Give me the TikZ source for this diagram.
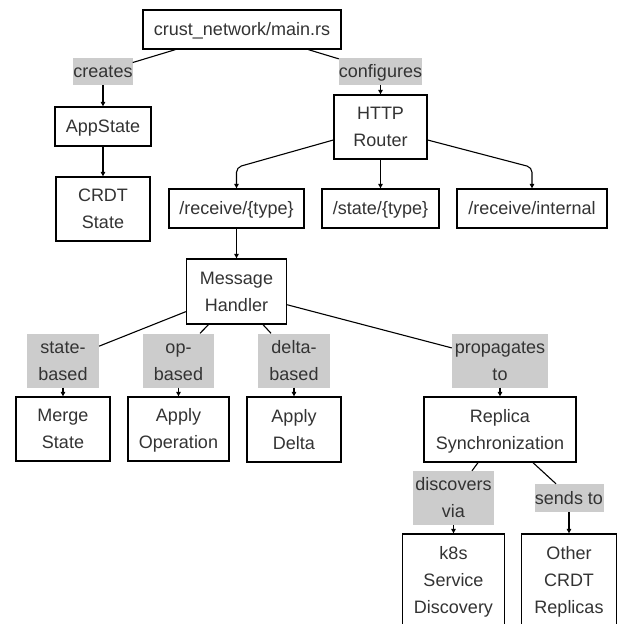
\documentclass[tikz,border=0pt]{standalone}
\usepackage{fontspec}
\setmainfont{Liberation Sans}
\usetikzlibrary{arrows.meta}
\definecolor{labelgray}{HTML}{CCCCCC}
\definecolor{ink}{HTML}{333333}
% one text line of the flowchart: 27pt tall, baseline 7.25pt above its foot
\newcommand{\lstrut}{\rule[-7.25pt]{0pt}{27pt}}
\newcommand{\txt}[1]{\lstrut#1}
\begin{document}
\begin{tikzpicture}[x=1pt, y=-1pt,
  every node/.style={inner sep=0pt, align=center, text=ink,
    font=\fontsize{18}{27}\selectfont},
  box/.style={draw=black, line width=1.3pt, fill=white},
  tag/.style={fill=labelgray},
  link/.style={draw=black, line width=1.1pt},
  arrow/.style={link, -{Triangle[length=4.5pt, width=4.5pt]}},
]
\useasboundingbox[fill=white] (0,0) rectangle (619,624);

% nodes
\node[box, minimum width=198pt, minimum height=39pt] (main) at (242,29.5) {\txt{crust\_network/main.rs}};
\node[tag, minimum width=59pt, minimum height=27pt] (creates) at (103,71.5) {\txt{creates}};
\node[tag, minimum width=83pt, minimum height=27pt] (configures) at (380.5,71.5) {\txt{configures}};
\node[box, minimum width=96pt, minimum height=39pt] (appstate) at (103,126.5) {\txt{AppState}};
\node[box, minimum width=94pt, minimum height=64pt] (crdt) at (103,209) {\txt{CRDT}\\\txt{State}};
\node[box, minimum width=93pt, minimum height=64pt] (router) at (380.5,127) {\txt{HTTP}\\\txt{Router}};
\node[box, minimum width=135pt, minimum height=39pt] (recv) at (236.5,208.5) {\txt{/receive/\{type\}}};
\node[box, minimum width=117pt, minimum height=39pt] (stateep) at (380.5,208.5) {\txt{/state/\{type\}}};
\node[box, minimum width=150pt, minimum height=39pt] (internal) at (532,208.5) {\txt{/receive/internal}};
\node[box, minimum width=100pt, minimum height=65pt] (handler) at (236.5,291.5) {\txt{Message}\\\txt{Handler}};

\node[tag, minimum width=72pt, minimum height=53pt] (statebased) at (63,360.5) {\txt{state-}\\\txt{based}};
\node[tag, minimum width=71pt, minimum height=53pt] (opbased) at (178.5,360.5) {\txt{op-}\\\txt{based}};
\node[tag, minimum width=72pt, minimum height=53pt] (deltabased) at (294,360.5) {\txt{delta-}\\\txt{based}};
\node[tag, minimum width=96pt, minimum height=53pt] (propagates) at (500,360.5) {\txt{propagates}\\\txt{to}};

\node[box, minimum width=94pt, minimum height=64pt] (merge) at (63,429) {\txt{Merge}\\\txt{State}};
\node[box, minimum width=101pt, minimum height=64pt] (applyop) at (178.5,429) {\txt{Apply}\\\txt{Operation}};
\node[box, minimum width=94pt, minimum height=65pt] (applydelta) at (294,429.5) {\txt{Apply}\\\txt{Delta}};
\node[box, minimum width=152pt, minimum height=65pt] (replica) at (500,429.5) {\txt{Replica}\\\txt{Synchronization}};

\node[tag, minimum width=81pt, minimum height=54pt] (discovers) at (453.5,498) {\txt{discovers}\\\txt{via}};
\node[tag, minimum width=69pt, minimum height=28pt] (sends) at (569,498) {\txt{sends to}};
\node[box, minimum width=102pt, minimum height=92pt] (k8s) at (453.5,580) {\txt{k8s}\\\txt{Service}\\\txt{Discovery}};
\node[box, minimum width=95pt, minimum height=92pt] (other) at (569,580) {\txt{Other}\\\txt{CRDT}\\\txt{Replicas}};

% connectors
\draw[link] (main) -- (creates);
\draw[arrow] (creates.south) -- (appstate.north);
\draw[link] (main) -- (configures);
\draw[arrow] (configures.south) -- (router.north);
\draw[arrow] (appstate.south) -- (crdt.north);

\draw[arrow, rounded corners=5pt] ([yshift=-13pt]router.west) -- ([yshift=21pt]recv.north) -- (recv.north);
\draw[arrow] (router.south) -- (stateep.north);
\draw[arrow, rounded corners=5pt] ([yshift=-13pt]router.east) -- ([yshift=21pt]internal.north) -- (internal.north);
\draw[arrow] (recv.south) -- (handler.north);

\draw[link] (handler) -- (statebased);
\draw[arrow] (statebased.south) -- (merge.north);
\draw[link] ([xshift=-28pt]handler.south) -- ([xshift=21.5pt]opbased.north);
\draw[arrow] (opbased.south) -- (applyop.north);
\draw[link] ([xshift=26.5pt]handler.south) -- ([xshift=-23pt]deltabased.north);
\draw[arrow] (deltabased.south) -- (applydelta.north);
\draw[link] (handler) -- (propagates);
\draw[arrow] (propagates.south) -- (replica.north);

\draw[link] ([xshift=-22pt]replica.south) -- ([xshift=18.5pt]discovers.north);
\draw[arrow] (discovers.south) -- (k8s.north);
\draw[link] ([xshift=33pt]replica.south) -- ([xshift=-13pt]sends.north);
\draw[arrow] (sends.south) -- (other.north);
\end{tikzpicture}
\end{document}
